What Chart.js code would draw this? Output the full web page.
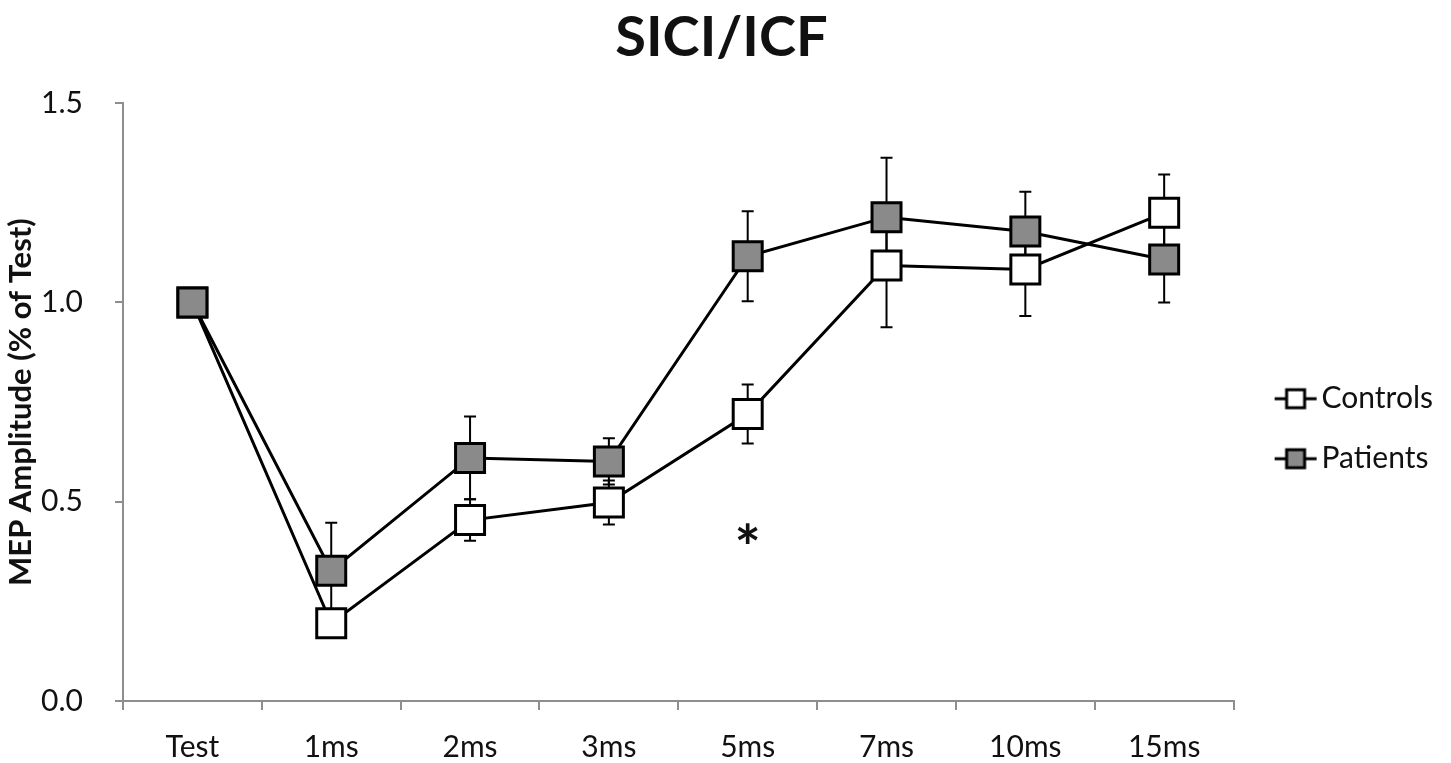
<!DOCTYPE html>
<html>
<head>
<meta charset="utf-8">
<title>SICI/ICF</title>
<script src="https://cdn.jsdelivr.net/npm/chart.js@4.4.1/dist/chart.umd.min.js"></script>
<style>
  html, body { margin: 0; padding: 0; background: #fff; }
  #wrap { width: 1451px; height: 763px; }
</style>
</head>
<body>
<div id="wrap"><canvas id="sici"></canvas></div>
<script>
// --- Data ---
const intervals = ['Test', '1ms', '2ms', '3ms', '5ms', '7ms', '10ms', '15ms'];
const controlsMean = [1.0, 0.195, 0.454, 0.498, 0.72, 1.093, 1.083, 1.225];
const controlsErr  = [0, 0.03, 0.052, 0.055, 0.074, 0.155, 0.117, 0.096];
const patientsMean = [1.0, 0.327, 0.61, 0.601, 1.116, 1.214, 1.178, 1.108];
const patientsErr  = [0, 0.12, 0.104, 0.058, 0.113, 0.149, 0.10, 0.108];
const yTicks = [0, 0.5, 1.0, 1.5];
// significance marker
const starInterval = '5ms';
const starValue = 0.41;

const FONT = 'Lato, "Open Sans", sans-serif';
const AXIS_GREY = '#8e8e8e';
const PATIENT_GREY = '#8a8a8a';

// legend icon: short line with a square on it (left part of the canvas is blank
// so the legend pushes the plot area further left)
const ICON_W = 65;
function makeLegendIcon(fill) {
    const c = document.createElement('canvas');
    c.width = ICON_W; c.height = 26;
    const g = c.getContext('2d');
    const x0 = ICON_W - 44;
    g.strokeStyle = '#000';
    g.lineWidth = 3;
    g.beginPath(); g.moveTo(x0 + 1, 13); g.lineTo(x0 + 43, 13); g.stroke();
    g.fillStyle = fill;
    g.fillRect(x0 + 13, 4, 18, 18);
    g.strokeRect(x0 + 13, 4, 18, 18);
    return c;
}

// error bars, drawn before the points so markers cover them
const errorBars = {
    id: 'errorBars',
    beforeDatasetsDraw(chart) {
        const ctx = chart.ctx;
        const yScale = chart.scales.y;
        const errs = [controlsErr, patientsErr];
        ctx.save();
        ctx.strokeStyle = '#000';
        ctx.lineWidth = 2;
        chart.data.datasets.forEach((ds, di) => {
            const meta = chart.getDatasetMeta(di);
            meta.data.forEach((pt, i) => {
                const e = errs[di][i];
                if (!e) return;
                const x = pt.x;
                const yHi = yScale.getPixelForValue(ds.data[i] + e);
                const yLo = yScale.getPixelForValue(ds.data[i] - e);
                ctx.beginPath();
                ctx.moveTo(x, yHi); ctx.lineTo(x, yLo);
                ctx.moveTo(x - 6, yHi); ctx.lineTo(x + 6, yHi);
                ctx.moveTo(x - 6, yLo); ctx.lineTo(x + 6, yLo);
                ctx.stroke();
            });
        });
        ctx.restore();
    },
    afterDatasetsDraw(chart) {
        const ctx = chart.ctx;
        const x = chart.scales.x.getPixelForValue(intervals.indexOf(starInterval));
        const y = chart.scales.y.getPixelForValue(starValue);
        ctx.save();
        ctx.fillStyle = '#111';
        ctx.font = 'bold 62px ' + FONT;
        ctx.textAlign = 'center';
        ctx.textBaseline = 'middle';
        ctx.fillText('*', x, y + 12);
        ctx.restore();
    }
};

const ctx = document.getElementById('sici').getContext('2d');
const chart = new Chart(ctx, {
    type: 'line',
    data: {
        labels: intervals,
        datasets: [
            {
                label: 'Controls',
                data: controlsMean,
                order: 1,
                borderColor: '#000',
                borderWidth: 3,
                pointStyle: 'rect',
                pointRadius: 20.5,
                pointBorderWidth: 3,
                pointBackgroundColor: '#fff',
                pointBorderColor: '#000',
                legendIcon: makeLegendIcon('#fff')
            },
            {
                label: 'Patients',
                data: patientsMean,
                order: 0,
                borderColor: '#000',
                borderWidth: 3,
                pointStyle: 'rect',
                pointRadius: 20.5,
                pointBorderWidth: 3,
                pointBackgroundColor: PATIENT_GREY,
                pointBorderColor: '#000',
                legendIcon: makeLegendIcon(PATIENT_GREY)
            }
        ]
    },
    options: {
        responsive: true,
        maintainAspectRatio: false,
        animation: false,
        layout: { padding: { left: 0, right: 8, top: 0, bottom: 0 } },
        scales: {
            x: {
                offset: true,
                grid: { offset: true, drawOnChartArea: false, drawTicks: true, tickLength: 9, color: AXIS_GREY, lineWidth: 2 },
                border: { display: true, color: AXIS_GREY, width: 2 },
                ticks: { color: '#111', font: { family: FONT, size: 30 }, padding: 19, maxRotation: 0 },
                afterFit(scale) { scale.height = 62; }
            },
            y: {
                min: 0,
                max: 1.5,
                afterBuildTicks(scale) { scale.ticks = yTicks.map(v => ({ value: v })); },
                grid: { drawOnChartArea: false, drawTicks: true, tickLength: 8, color: AXIS_GREY, lineWidth: 2 },
                border: { display: true, color: AXIS_GREY, width: 2 },
                ticks: { color: '#111', font: { family: FONT, size: 30 }, padding: 32, callback: v => v.toFixed(1) },
                title: { display: true, text: 'MEP Amplitude (% of Test)', color: '#111', font: { family: FONT, size: 31, weight: 'bold' }, padding: { top: 2, bottom: 0 } },
                afterFit(scale) { scale.width = 123; }
            }
        },
        plugins: {
            title: {
                display: true,
                text: 'SICI/ICF',
                color: '#111',
                font: { family: FONT, size: 56, weight: 'bold' },
                padding: { top: 4, bottom: 32 }
            },
            legend: {
                position: 'right',
                // empty title only used to push the entries down a little
                title: { display: true, text: '', padding: { top: 92, bottom: 0 }, font: { size: 2 } },
                labels: {
                    usePointStyle: true,
                    pointStyleWidth: ICON_W - 22,
                    padding: 30,
                    color: '#111',
                    font: { family: FONT, size: 30 },
                    generateLabels(chart) {
                        return chart.data.datasets.map((ds, i) => ({
                            text: ds.label,
                            pointStyle: ds.legendIcon,
                            fillStyle: '#fff',
                            strokeStyle: '#000',
                            lineWidth: 0,
                            fontColor: '#111',
                            hidden: false,
                            datasetIndex: i
                        }));
                    }
                }
            },
            tooltip: { enabled: false }
        }
    },
    plugins: [errorBars]
});
</script>
</body>
</html>
